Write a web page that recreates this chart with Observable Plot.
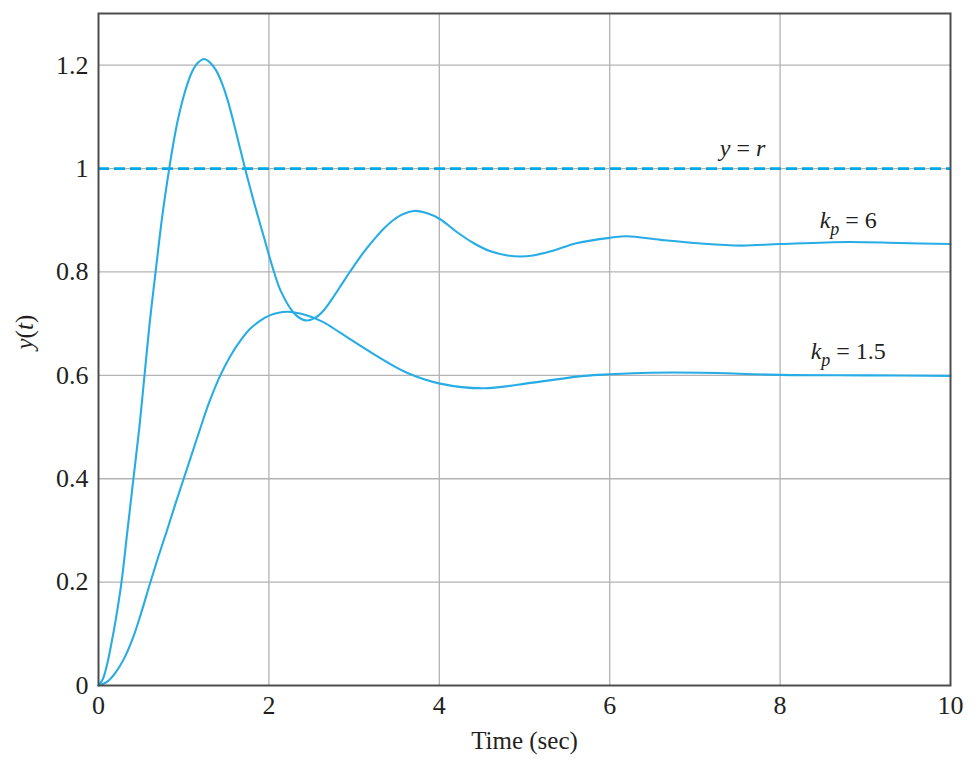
<!DOCTYPE html>
<html>
<head>
<meta charset="utf-8">
<script src="https://cdn.jsdelivr.net/npm/d3@7"></script>
<script src="https://cdn.jsdelivr.net/npm/@observablehq/plot@0.6"></script>
<style>
  body { margin: 0; background: #fff; }
</style>
</head>
<body>
<div id="chart"></div>
<script>
// ---- data ----
const kp6T = [0, 0.05, 0.1, 0.15, 0.2, 0.27, 0.34, 0.41, 0.48, 0.54, 0.6, 0.67, 0.75, 0.83, 0.88, 0.93, 0.98, 1.04, 1.1, 1.17, 1.24, 1.31, 1.38, 1.45, 1.52, 1.6, 1.72, 1.83, 1.94, 2.06, 2.14, 2.29, 2.37, 2.45, 2.55, 2.65, 2.75, 2.85, 2.95, 3.05, 3.15, 3.25, 3.35, 3.45, 3.55, 3.7, 3.85, 4.01, 4.2, 4.4, 4.6, 4.8, 4.95, 5.1, 5.31, 5.62, 6.0, 6.2, 6.6, 7.07, 7.54, 8.0, 8.8, 9.4, 10];
const kp6Y = [0, 0.012, 0.04, 0.08, 0.125, 0.2, 0.3, 0.4, 0.5, 0.6, 0.7, 0.8, 0.91, 1.0, 1.05, 1.093, 1.128, 1.162, 1.188, 1.205, 1.212, 1.205, 1.19, 1.165, 1.13, 1.08, 1.0, 0.932, 0.868, 0.8, 0.763, 0.721, 0.71, 0.706, 0.712, 0.727, 0.75, 0.775, 0.8, 0.824, 0.846, 0.866, 0.884, 0.899, 0.91, 0.918, 0.914, 0.902, 0.878, 0.856, 0.84, 0.832, 0.83, 0.832, 0.84, 0.856, 0.866, 0.869, 0.862, 0.855, 0.851, 0.854, 0.858, 0.856, 0.854];

const kp15T = [0, 0.1, 0.2, 0.3, 0.4, 0.5, 0.6, 0.7, 0.8, 0.9, 1.0, 1.1, 1.2, 1.3, 1.43, 1.55, 1.67, 1.78, 1.9, 2.01, 2.21, 2.45, 2.64, 2.84, 3.23, 3.62, 4.01, 4.52, 5.1, 5.7, 6.0, 6.48, 7.07, 8.0, 9.0, 10];
const kp15Y = [0, 0.007, 0.025, 0.052, 0.09, 0.14, 0.195, 0.248, 0.298, 0.35, 0.4, 0.45, 0.5, 0.548, 0.6, 0.638, 0.668, 0.69, 0.706, 0.716, 0.723, 0.716, 0.703, 0.682, 0.641, 0.605, 0.584, 0.575, 0.586, 0.599, 0.602, 0.605, 0.605, 0.601, 0.6, 0.599];

const refValue = 1;
const xTicks = [0, 2, 4, 6, 8, 10];
const yTicks = [0, 0.2, 0.4, 0.6, 0.8, 1, 1.2];

const labels = [
  {t: 7.56, y: 1.024, text: "y = r"},
  {t: 8.8, y: 0.886, text: "kp = 6"},
  {t: 8.8, y: 0.631, text: "kp = 1.5"}
];

const kp6 = kp6T.map((t, i) => ({t, y: kp6Y[i]}));
const kp15 = kp15T.map((t, i) => ({t, y: kp15Y[i]}));

const curveColor = "#27ace6";
const gridColor = "#b3b3b3";

const chart = Plot.plot({
  width: 980,
  height: 764,
  marginLeft: 98,
  marginRight: 30,
  marginTop: 13,
  marginBottom: 79,
  style: {fontFamily: "'Liberation Serif', 'Times New Roman', serif", fontSize: "26px", color: "#231f20", background: "#fff"},
  x: {domain: [0, 10]},
  y: {domain: [0, 1.3]},
  marks: [
    Plot.ruleX(xTicks.slice(1, -1), {stroke: gridColor, strokeWidth: 1.3}),
    Plot.ruleY(yTicks.slice(1), {stroke: gridColor, strokeWidth: 1.3}),
    Plot.ruleY([refValue], {stroke: "#00a9e6", strokeWidth: 2.6, strokeDasharray: "11,5"}),
    Plot.line(kp15, {x: "t", y: "y", stroke: curveColor, strokeWidth: 2.1, curve: "catmull-rom"}),
    Plot.line(kp6, {x: "t", y: "y", stroke: curveColor, strokeWidth: 2.1, curve: "catmull-rom"}),
    Plot.frame({stroke: "#4d4d4d", strokeWidth: 2}),
    Plot.axisX(xTicks, {tickSize: 0, tickPadding: 10, label: null, fontSize: 26, tickFormat: d => String(d)}),
    Plot.axisY(yTicks, {tickSize: 0, tickPadding: 10, label: null, fontSize: 26, tickFormat: d => String(d)}),
    Plot.text(["Time (sec)"], {frameAnchor: "bottom", dy: 63, fontSize: 25}),
    Plot.text(["y(t)"], {frameAnchor: "left", dx: -74, rotate: -90, fontSize: 25}),
    Plot.text(labels, {x: "t", y: "y", text: "text", fontSize: 24, textAnchor: "middle", lineAnchor: "bottom"})
  ]
});

document.getElementById("chart").appendChild(chart);

// rich formatting: italics and subscripts
d3.select(chart).selectAll("text").each(function () {
  const el = d3.select(this);
  const s = this.textContent;
  if (s === "y(t)") {
    el.text(null);
    el.append("tspan").attr("font-style", "italic").text("y");
    el.append("tspan").text("(");
    el.append("tspan").attr("font-style", "italic").text("t");
    el.append("tspan").text(")");
  } else if (s === "y = r") {
    el.text(null);
    el.append("tspan").attr("font-style", "italic").text("y");
    el.append("tspan").text(" = ");
    el.append("tspan").attr("font-style", "italic").text("r");
  } else if (s.startsWith("kp = ")) {
    const v = s.slice(5);
    el.text(null);
    el.append("tspan").attr("font-style", "italic").text("k");
    el.append("tspan").attr("font-style", "italic").attr("font-size", 18).attr("dy", 7).text("p");
    el.append("tspan").attr("dy", -7).text(" = " + v);
  }
});
</script>
</body>
</html>
